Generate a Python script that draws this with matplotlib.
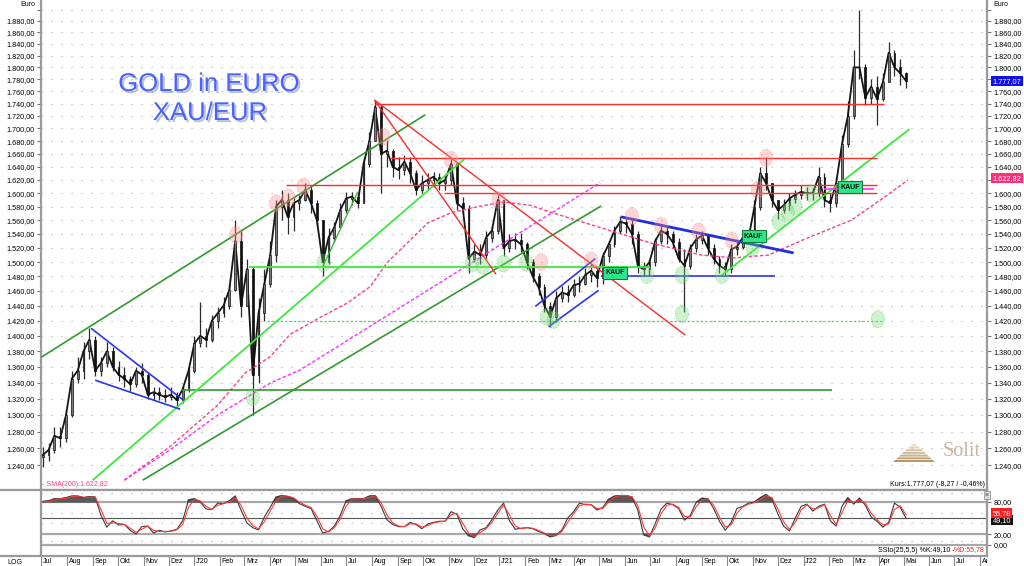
import numpy as np
import pandas as pd
import matplotlib
matplotlib.use('Agg')
import matplotlib.pyplot as plt
import matplotlib.dates as mdates
from matplotlib.path import Path
from matplotlib.lines import Line2D
from matplotlib.patches import Polygon
from matplotlib.ticker import NullLocator
from matplotlib import patheffects as pe

plt.rcParams['font.family'] = ['Liberation Sans', 'DejaVu Sans']

# weekly bars XAU/EUR (Wednesday-centred)
close_px = [1252, 1258, 1275, 1272, 1300, 1345, 1355, 1380, 1395, 1355,
            1365, 1380, 1360, 1350, 1345, 1338, 1355, 1350, 1325, 1328,
            1325, 1322, 1325, 1318, 1332, 1355, 1390, 1400, 1395, 1420,
            1430, 1440, 1462, 1530, 1440, 1490, 1350, 1430, 1470, 1510,
            1580, 1590, 1565, 1585, 1590, 1605, 1585, 1560, 1500, 1535,
            1550, 1575, 1592, 1595, 1585, 1645, 1680, 1735, 1660, 1665,
            1640, 1635, 1648, 1630, 1605, 1615, 1620, 1625, 1615, 1620,
            1645, 1585, 1578, 1505, 1515, 1510, 1535, 1545, 1590, 1520,
            1530, 1532, 1525, 1500, 1480, 1465, 1440, 1425, 1450, 1458,
            1455, 1468, 1470, 1482, 1488, 1478, 1508, 1525, 1545, 1558,
            1555, 1540, 1495, 1490, 1500, 1530, 1545, 1540, 1528, 1505,
            1495, 1520, 1532, 1538, 1520, 1505, 1495, 1490, 1518, 1522,
            1535, 1535, 1580, 1630, 1615, 1590, 1575, 1582, 1592, 1598,
            1602, 1600, 1600, 1625, 1590, 1585, 1615, 1675, 1720, 1800,
            1800, 1750, 1768, 1748, 1775, 1825, 1800, 1790, 1777]
high_px = [1262, 1266, 1285, 1285, 1305, 1355, 1372, 1392, 1410, 1400,
           1372, 1392, 1385, 1368, 1360, 1348, 1360, 1365, 1352, 1335,
           1335, 1332, 1335, 1328, 1336, 1360, 1400, 1445, 1410, 1428,
           1438, 1452, 1470, 1560, 1545, 1505, 1495, 1450, 1490, 1530,
           1590, 1605, 1600, 1595, 1598, 1615, 1612, 1590, 1560, 1548,
           1558, 1585, 1602, 1602, 1600, 1655, 1695, 1746, 1740, 1682,
           1668, 1655, 1658, 1655, 1635, 1628, 1630, 1632, 1630, 1628,
           1652, 1648, 1595, 1582, 1525, 1525, 1545, 1552, 1598, 1590,
           1540, 1542, 1542, 1528, 1505, 1485, 1470, 1445, 1460, 1467,
           1468, 1477, 1480, 1492, 1497, 1490, 1515, 1530, 1552, 1566,
           1565, 1560, 1545, 1500, 1505, 1535, 1552, 1550, 1545, 1535,
           1518, 1525, 1540, 1545, 1538, 1525, 1508, 1500, 1525, 1530,
           1545, 1545, 1590, 1640, 1655, 1615, 1590, 1592, 1600, 1605,
           1612, 1610, 1608, 1640, 1630, 1600, 1625, 1690, 1745, 1830,
           1900, 1805, 1780, 1785, 1790, 1843, 1830, 1815, 1792]
low_px = [1238, 1245, 1255, 1262, 1268, 1298, 1340, 1345, 1370, 1348,
          1348, 1360, 1355, 1342, 1335, 1330, 1335, 1340, 1320, 1318,
          1318, 1316, 1318, 1310, 1315, 1328, 1352, 1385, 1385, 1392,
          1410, 1425, 1435, 1460, 1425, 1440, 1300, 1340, 1420, 1465,
          1500, 1560, 1540, 1545, 1575, 1588, 1570, 1550, 1480, 1498,
          1528, 1548, 1570, 1583, 1578, 1585, 1640, 1680, 1600, 1640,
          1625, 1622, 1628, 1615, 1598, 1600, 1605, 1610, 1605, 1605,
          1612, 1575, 1570, 1485, 1500, 1498, 1505, 1528, 1540, 1508,
          1515, 1518, 1515, 1490, 1472, 1455, 1432, 1412, 1418, 1445,
          1445, 1452, 1458, 1468, 1472, 1465, 1470, 1500, 1522, 1542,
          1542, 1525, 1485, 1480, 1480, 1495, 1525, 1525, 1520, 1500,
          1432, 1490, 1515, 1525, 1510, 1498, 1485, 1480, 1485, 1510,
          1518, 1525, 1530, 1575, 1605, 1580, 1562, 1570, 1575, 1585,
          1592, 1590, 1590, 1595, 1580, 1572, 1580, 1612, 1670, 1715,
          1780, 1738, 1740, 1705, 1745, 1785, 1785, 1770, 1765]
first_open = 1250

# slow stochastic SSto(25,5,5), weekly readings
stoch_k = [81, 82, 86, 86, 88, 91, 91, 88, 90, 89,
           55, 33, 45, 37, 38, 27, 20, 34, 35, 22,
           27, 24, 26, 29, 45, 84, 86, 80, 67, 66,
           78, 77, 82, 91, 65, 41, 32, 28, 52, 70,
           89, 92, 90, 86, 77, 72, 68, 45, 22, 25,
           35, 55, 82, 86, 86, 86, 91, 92, 72, 47,
           38, 34, 34, 42, 38, 30, 39, 42, 44, 44,
           62, 57, 30, 17, 14, 28, 32, 47, 65, 78,
           45, 29, 31, 32, 30, 25, 21, 15, 18, 28,
           50, 62, 78, 75, 75, 65, 70, 85, 91, 92,
           92, 89, 65, 19, 15, 40, 67, 78, 75, 68,
           46, 55, 79, 87, 86, 68, 44, 27, 42, 68,
           72, 78, 80, 88, 94, 85, 58, 35, 26, 50,
           72, 76, 63, 72, 76, 45, 35, 72, 88, 76,
           87, 74, 52, 44, 33, 42, 78, 70, 49.1]
stoch_d = [80, 81, 84, 86, 87, 90, 91, 89, 89, 89,
           66, 40, 41, 40, 38, 31, 23, 29, 35, 27,
           25, 25, 25, 28, 38, 70, 85, 82, 72, 66,
           74, 77, 80, 88, 74, 50, 36, 30, 43, 63,
           82, 91, 91, 88, 80, 74, 70, 53, 30, 24,
           32, 48, 72, 85, 86, 86, 89, 92, 79, 56,
           41, 35, 34, 39, 39, 33, 36, 41, 43, 44,
           56, 59, 40, 22, 15, 23, 30, 42, 59, 74,
           56, 35, 30, 32, 31, 27, 22, 17, 17, 25,
           42, 58, 73, 76, 75, 68, 68, 80, 89, 92,
           92, 90, 73, 34, 16, 32, 58, 74, 76, 70,
           53, 52, 71, 84, 86, 74, 52, 33, 37, 59,
           71, 76, 79, 85, 92, 88, 67, 43, 29, 42,
           65, 75, 67, 69, 75, 55, 38, 60, 83, 80,
           84, 78, 59, 47, 37, 39, 66, 73, 55.78]

# SMA(200) and second moving line (dashed)
sma_dates = ['2019-10-09', '2019-12-04', '2020-01-29', '2020-03-02', '2020-04-01',
             '2020-04-25', '2020-06-01', '2020-07-03', '2020-07-30', '2020-08-19',
             '2020-09-08', '2020-10-07', '2020-11-04', '2020-12-06', '2021-01-06',
             '2021-02-07', '2021-03-03', '2021-05-03', '2021-07-02', '2021-08-31',
             '2021-10-10', '2021-11-20', '2021-12-30', '2022-02-27', '2022-04-08',
             '2022-05-06']
sma_vals = [1223, 1263, 1312, 1352, 1373, 1402, 1425, 1444, 1466, 1499,
            1522, 1556, 1571, 1580, 1587, 1582, 1572, 1549, 1527, 1510,
            1506, 1510, 1531, 1560, 1594, 1620]
mag_dates = ['2019-10-09', '2019-12-04', '2020-01-29', '2020-04-02', '2020-05-07',
             '2021-01-27', '2021-05-02']
mag_vals = [1223, 1259, 1300, 1340, 1356, 1543, 1616]

# analyst drawings: ((date, price), (date, price))
dark_green_lines = [(('2019-07-01', 1372), ('2020-10-04', 1722)),
                    (('2019-10-31', 1223), ('2021-05-03', 1581)),
                    (('2019-12-16', 1331), ('2022-02-04', 1331))]
light_green_lines = [(('2019-09-01', 1223), ('2020-11-20', 1652)),
                     (('2020-03-06', 1493), ('2021-07-01', 1493)),
                     (('2021-09-25', 1482), ('2022-05-08', 1699))]
mid_green_lines = [(('2020-06-04', 1496), ('2020-07-15', 1602))]
lime_dashed_lines = [(('2020-03-28', 1420), ('2022-04-04', 1420))]
red_lines = [(('2020-08-05', 1740), ('2022-04-08', 1740)),
             (('2020-08-23', 1654), ('2022-03-30', 1654)),
             (('2020-04-20', 1612), ('2022-03-30', 1612)),
             (('2020-10-26', 1600), ('2022-03-30', 1600)),
             (('2020-08-04', 1746), ('2020-12-28', 1483)),
             (('2020-08-04', 1746), ('2021-08-12', 1401))]
blue_lines = [(('2019-08-30', 1410), ('2019-12-19', 1318)),
              (('2019-09-04', 1343), ('2019-12-15', 1307)),
              (('2021-02-13', 1439), ('2021-04-26', 1505)),
              (('2021-03-01', 1412), ('2021-04-30', 1461)),
              (('2021-05-03', 1480), ('2021-11-28', 1480))]
blue_thick_lines = [(('2021-05-27', 1565), ('2021-12-20', 1513))]
magenta_lines = [(('2022-01-25', 1607), ('2022-03-26', 1607))]

red_marks = [('2020-02-20', 1539), ('2020-04-08', 1585), ('2020-04-23', 1593),
             ('2020-05-11', 1610), ('2020-08-15', 1687), ('2020-11-04', 1651),
             ('2020-12-31', 1590), ('2021-02-20', 1500), ('2021-04-21', 1502),
             ('2021-06-09', 1566), ('2021-07-14', 1552), ('2021-08-28', 1544),
             ('2021-10-07', 1531), ('2021-11-07', 1605), ('2021-11-17', 1654)]
green_marks = [('2020-03-11', 1322), ('2020-06-04', 1499), ('2020-11-29', 1498),
               ('2020-12-12', 1495), ('2021-01-06', 1498), ('2021-02-02', 1499),
               ('2021-02-27', 1425), ('2021-03-07', 1421), ('2021-06-27', 1482),
               ('2021-08-08', 1482), ('2021-08-08', 1429), ('2021-09-25', 1482),
               ('2021-11-01', 1521), ('2021-12-02', 1558), ('2021-12-13', 1572),
               ('2021-12-22', 1580), ('2022-01-10', 1600), ('2022-03-31', 1422)]
buy_signals = [('2021-05-20', 1485), ('2021-11-02', 1537), ('2022-02-26', 1609)]

month_names = ["J", 'Feb', 'Mrz', 'Apr', 'Mai', 'Jun', 'Jul', 'Aug', 'Sep', 'Okt', 'Nov', 'Dez']
last_price = 1777.07
last_sma = 1622.82


def de(v, nd=2):
    s = f"{v:,.{nd}f}"
    return s.replace(',', 'X').replace('.', ',').replace('X', '.')


W, H = 1024, 566
fig = plt.figure(figsize=(W / 100, H / 100), dpi=100)


def fx(px):
    return px / W


def fy(py):
    return 1 - py / H


x0, x1 = fx(41), fx(987)
ax = fig.add_axes([x0, fy(490), x1 - x0, 490 / H])
ax2 = fig.add_axes([x0, fy(556), x1 - x0, 66 / H])
ax3 = fig.add_axes([x0, 0, x1 - x0, 10 / H])

xmin = mdates.date2num(pd.Timestamp('2019-07-01'))
xmax = mdates.date2num(pd.Timestamp('2022-08-09'))
for a in (ax, ax2, ax3):
    a.set_xlim(xmin, xmax)

weeks = mdates.date2num(pd.date_range('2019-07-03', periods=len(close_px), freq='7D'))
c = np.array(close_px, float)
o = np.concatenate([[first_open], c[:-1]])
hi = np.maximum(np.maximum(o, c), high_px)
lo = np.minimum(np.minimum(o, c), low_px)

# --- main price panel ---
ax.set_yscale('log')
ax.set_ylim(1211.8, 1917.3)
yt = np.arange(1240, 1901, 20)
ax.set_yticks(yt)
ax.set_yticklabels([de(v) if v < 1900 else '' for v in yt])
ax.yaxis.set_minor_locator(NullLocator())
ax.tick_params(axis='y', which='major', left=True, right=True, labelleft=True,
               labelright=True, length=3, width=0.8, color='#777', labelsize=5.2, pad=1.5)
ax.tick_params(axis='x', bottom=False, labelbottom=False)
# right-hand labels hidden behind the value boxes
for tk, v in zip(ax.yaxis.get_major_ticks(), yt):
    if v in (1620, 1780):
        tk.label2.set_visible(False)
ax.spines['top'].set_visible(False)
for s in ('left', 'right', 'bottom'):
    ax.spines[s].set_color('#9a9a9a')
    ax.spines[s].set_linewidth(1.6)
for v in yt:
    ax.axhline(v, color='#a5a5a5', lw=0.8, ls=(0, (1, 8)), zorder=0)

ax.vlines(weeks, lo, hi, color='#2a2a2a', lw=0.9, zorder=3)
ax.plot(weeks, c, color='#151515', lw=1.3, zorder=3.2)
up = c >= o
ax.bar(weeks[up], (c - o)[up], bottom=o[up], width=2.2, color='#7a7a7a',
       edgecolor='#111', lw=0.5, zorder=3.5)
ax.bar(weeks[~up], (o - c)[~up], bottom=c[~up], width=2.2, color='#111',
       edgecolor='#111', lw=0.5, zorder=3.5)

sma_x = mdates.date2num(pd.to_datetime(sma_dates))
ax.plot(sma_x, sma_vals, color='#ff3d8b', lw=1.0, ls=(0, (2.5, 1.5)), zorder=4)
mag_x = mdates.date2num(pd.to_datetime(mag_dates))
ax.plot(mag_x, mag_vals, color='#ff2bff', lw=1.0, ls=(0, (2.5, 1.5)), zorder=4)


def draw(lines, **kw):
    for (d0, p0), (d1, p1) in lines:
        xs = mdates.date2num(pd.to_datetime([d0, d1]))
        ax.plot(xs, [p0, p1], zorder=4, solid_capstyle='butt', **kw)


draw(dark_green_lines, color='#2f9a2f', lw=1.2)
draw(light_green_lines, color='#3ce83c', lw=1.3)
draw(mid_green_lines, color='#3cb83c', lw=1.0)
draw(lime_dashed_lines, color='#5ad65a', lw=0.9, ls=(0, (2, 1.5)))
draw(red_lines, color='#ff2a2a', lw=1.0)
draw(blue_lines, color='#2a35f0', lw=1.2)
draw(blue_thick_lines, color='#1f2ee0', lw=2.0)
draw(magenta_lines, color='#ff33ff', lw=1.2)

t = np.linspace(0, 2 * np.pi, 48)
ell = Path(np.column_stack([0.78 * np.cos(t), np.sin(t)]))
rx = mdates.date2num(pd.to_datetime([d for d, _ in red_marks]))
ax.scatter(rx, [p for _, p in red_marks], marker=ell, s=150, zorder=5,
           facecolors=(1.0, 0.55, 0.55, 0.35), edgecolors=(0.95, 0.5, 0.5, 0.6),
           linewidths=0.7, linestyles=':')
gx = mdates.date2num(pd.to_datetime([d for d, _ in green_marks]))
ax.scatter(gx, [p for _, p in green_marks], marker=ell, s=150, zorder=5,
           facecolors=(0.45, 0.85, 0.45, 0.35), edgecolors=(0.35, 0.75, 0.35, 0.6),
           linewidths=0.7, linestyles=':')

for d, p in buy_signals:
    ax.text(mdates.date2num(pd.Timestamp(d)), p, 'KAUF', ha='center', va='center',
            fontsize=5, fontweight='bold', color='#111', zorder=8,
            bbox=dict(boxstyle='square,pad=0.35', fc='#2ee68a', ec='#157a3c', lw=0.8))

tr = ax.get_yaxis_transform()
ax.text(1.006, last_price, de(last_price), transform=tr, ha='left', va='center',
        fontsize=5.3, color='white', clip_on=False,
        bbox=dict(boxstyle='square,pad=0.2', fc='#1010ee', ec='none'))
ax.text(1.006, last_sma, de(last_sma), transform=tr, ha='left', va='center',
        fontsize=5.3, color='white', clip_on=False,
        bbox=dict(boxstyle='square,pad=0.2', fc='#ff2d78', ec='none'))

# --- stochastic panel ---
k = np.array(stoch_k, float)
d = np.array(stoch_d, float)
ax2.set_ylim(-21, 102.5)
for lvl in (80, 20, 0):
    ax2.axhline(lvl, color='#a8a8a8', lw=1.6, zorder=1)
ax2.axhline(50, color='#555', lw=0.8, zorder=1)
for lvl in (97, 60, 40, 7):
    ax2.axhline(lvl, color='#a5a5a5', lw=0.8, ls=(0, (1, 8)), zorder=0)
ax2.fill_between(weeks, k, 80, where=k > 80, interpolate=True, color='#5a5a5a', zorder=2)
ax2.fill_between(weeks, k, 20, where=k < 20, interpolate=True, color='#5a5a5a', zorder=2)
ax2.plot(weeks, k, color='#3a3a3a', lw=0.8, zorder=3)
ax2.plot(weeks, d, color='#ff3a3a', lw=0.8, zorder=3)
ax2.set_yticks([0, 20, 80])
ax2.set_yticklabels(['0,00', '20,00', '80,00'])
ax2.tick_params(axis='y', left=False, labelleft=False, right=True, labelright=True,
                length=3, width=0.8, color='#777', labelsize=5.2, pad=1.5)
ax2.tick_params(axis='x', bottom=False, labelbottom=False)
for s in ax2.spines.values():
    s.set_color('#9a9a9a')
    s.set_linewidth(1.6)
tr2 = ax2.get_yaxis_transform()
ax2.text(1.006, k[-1] - 3, de(k[-1]), transform=tr2, ha='left', va='center', fontsize=5.3,
         color='white', clip_on=False, bbox=dict(boxstyle='square,pad=0.2', fc='#111', ec='none'))
ax2.text(1.006, d[-1] + 3, de(d[-1]), transform=tr2, ha='left', va='center', fontsize=5.3,
         color='white', clip_on=False, bbox=dict(boxstyle='square,pad=0.2', fc='#ff1e1e', ec='none'))

# --- date strip ---
months = pd.date_range('2019-07-01', '2022-08-01', freq='MS')
mx = mdates.date2num(months)
ax3.set_ylim(0, 1)
ax3.axis('off')
ax3.vlines(mx, 0, 1, color='#888', lw=0.8)
for m, n in zip(months, mx):
    lab = f"J'{m.year % 100:02d}" if m.month == 1 else month_names[m.month - 1]
    ax3.text(n + 2, 0.45, lab, fontsize=5, ha='left', va='center', clip_on=True)

# --- frame pieces and texts ---
for yy in (490, 556):
    fig.add_artist(Line2D([0, x0], [fy(yy), fy(yy)], color='#9a9a9a', lw=1.6))
fig.text(fx(15), fy(562), 'LOG', fontsize=5, ha='center', va='center')
fig.text(fx(35), fy(5), 'Euro', fontsize=5, ha='right', va='center')
fig.text(fx(993), fy(5), 'Euro', fontsize=5, ha='left', va='center')
fig.text(fx(42), fy(485), '- SMA(200):' + de(last_sma), fontsize=5, color='#ff3d8b',
         ha='left', va='center')
fig.text(fx(985), fy(485), 'Kurs:1.777,07 (-8,27 / -0,46%)', fontsize=5,
         ha='right', va='center')
fig.text(fx(985), fy(550), '%D:' + de(d[-1]), fontsize=5, color='#ff2020',
         ha='right', va='center')
fig.text(fx(955), fy(550), 'SSto(25,5,5) %K:' + de(k[-1]) + ' -', fontsize=5,
         ha='right', va='center')
fig.text(fx(987), fy(495), '×', fontsize=5, ha='center', va='center', color='#333',
         bbox=dict(boxstyle='square,pad=0.1', fc='#ddd', ec='#888', lw=0.5))

shadow = [pe.withSimplePatchShadow(offset=(1.5, -1.5), shadow_rgbFace='#8090b0', alpha=0.55)]
fig.text(fx(209), fy(84), 'GOLD in EURO', fontsize=18.5, color='#4a62ff',
         ha='center', va='center', path_effects=shadow)
fig.text(fx(210), fy(113), 'XAU/EUR', fontsize=18.5, color='#4a62ff',
         ha='center', va='center', path_effects=shadow)

# Solit logo
lg = fig.add_axes([fx(893), fy(462), 42 / W, 19 / H])
lg.set_xlim(0, 42)
lg.set_ylim(0, 19)
lg.axis('off')
shades = ['#b89868', '#c4a678', '#ccb088', '#d4bb96', '#dcc6a6', '#e4d2b6', '#ecdcc6']
for i, col in enumerate(shades):
    y0 = i * 2.7
    w0 = 21 * (1 - i / 7.2)
    w1 = 21 * (1 - (i + 0.75) / 7.2)
    lg.add_patch(Polygon([(21 - w0, y0), (21 + w0, y0), (21 + w1, y0 + 2.0), (21 - w1, y0 + 2.0)],
                         closed=True, fc=col, ec='none'))
fig.text(fx(962), fy(452), 'Solit', fontsize=14.5, family='Liberation Serif',
         color='#c9b497', ha='center', va='center')

fig.savefig('out.png', dpi=100, facecolor='white')
